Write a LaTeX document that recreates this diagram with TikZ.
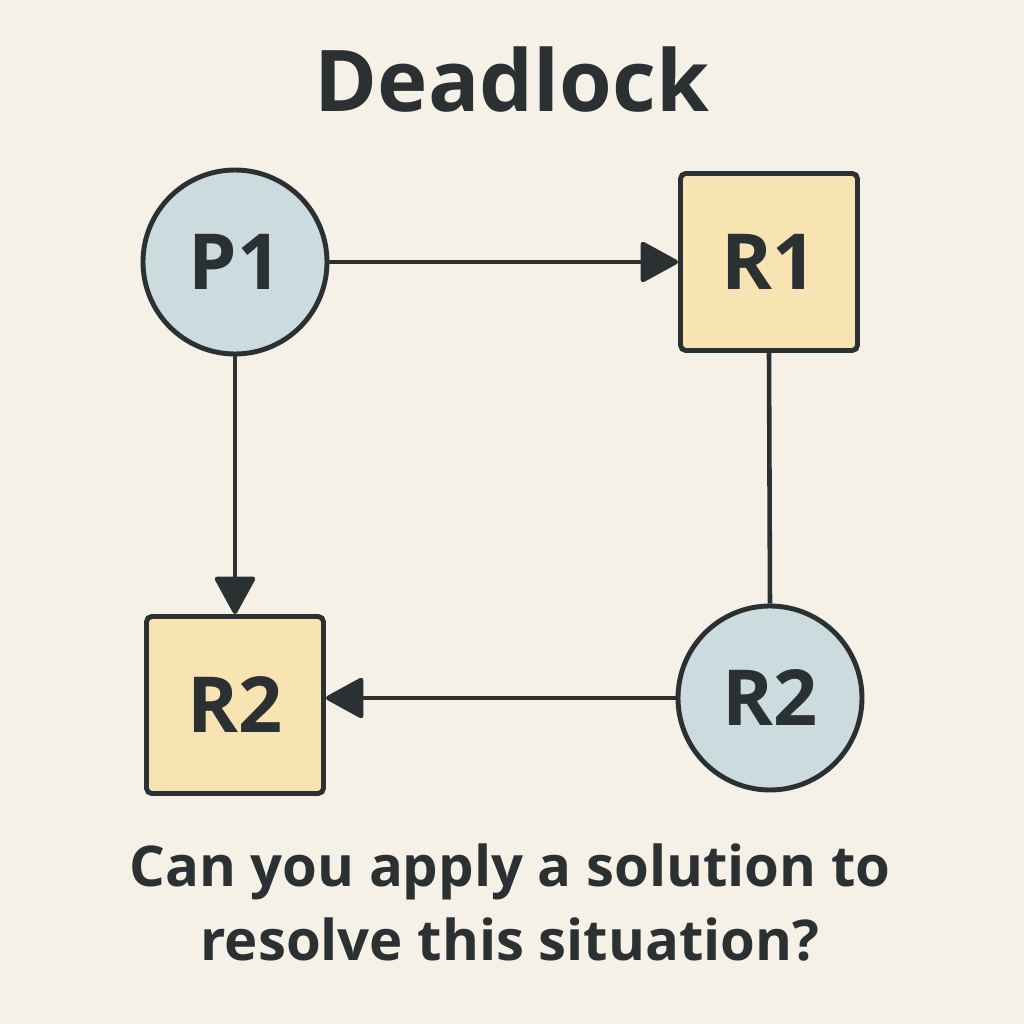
\documentclass[tikz,border=0pt]{standalone}
\usepackage{fontspec}
\setmainfont{Open Sans}
\usepackage{tikz}
\usetikzlibrary{arrows.meta,positioning}
\definecolor{PaperBg}{HTML}{F6F1E7}
\definecolor{ProcFill}{HTML}{CCDBDE}
\definecolor{ResFill}{HTML}{F8E3B2}
\definecolor{InkDark}{HTML}{2B3033}

\begin{document}
\begin{tikzpicture}[
  font=\bfseries,
  process/.style={circle, draw=InkDark, line width=2.8pt, fill=ProcFill, minimum size=3.68cm, inner sep=0pt, text=InkDark, font=\fontsize{44}{50}\selectfont\bfseries},
  resource/.style={rectangle, rounded corners=3pt, draw=InkDark, line width=2.8pt, fill=ResFill, minimum size=3.54cm, inner sep=0pt, text=InkDark, font=\fontsize{44}{50}\selectfont\bfseries},
  link/.style={draw=InkDark, line width=2.6pt},
  -{Triangle[length=8mm, width=8.5mm, round]}
]
\fill[PaperBg] (0,0) rectangle (20.48,20.48);
\useasboundingbox (0,0) rectangle (20.48,20.48);

\node[text=InkDark, font=\fontsize{48.5}{54}\selectfont\bfseries] (title) at (10.24,18.88) {Deadlock};

\node[process] (p1) at (4.7,15.24) {P1};
\node[resource] (r1) at (15.38,15.24) {R1};
\node[resource] (r2box) at (4.7,6.38) {R2};
\node[process] (r2proc) at (15.4,6.52) {R2};

\node[text=InkDark, align=center, font=\fontsize{32}{42.5}\selectfont\bfseries] (question) at (10.2,2.43) {Can you apply a solution to\\resolve this situation?};

\draw[link] (p1) -- (r1);
\draw[link] (p1) -- (r2box);
\draw[link, -] (r1.south) -- (r2proc.north);
\draw[link] (r2proc.west) -- (r2box.east |- r2proc.west);

\end{tikzpicture}
\end{document}
